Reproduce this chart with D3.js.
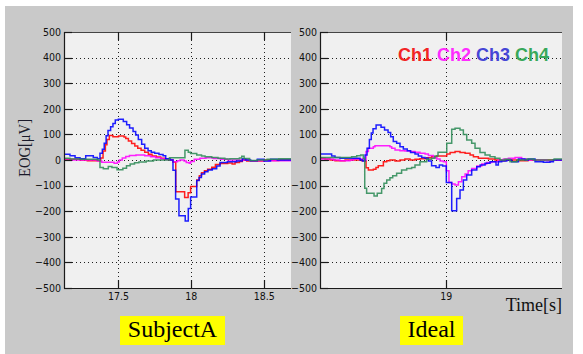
<!DOCTYPE html>
<html>
<head>
<meta charset="utf-8">
<script src="https://cdn.jsdelivr.net/npm/d3@7"></script>
<style>
  body { margin: 0; background: #fff; }
  text { white-space: pre; }
</style>
</head>
<body>
<svg id="chart" width="583" height="354"></svg>
<script>
// ---- data -----------------------------------------------------------
// EOG amplitude axis (µV)
const yTicks = [500, 400, 300, 200, 100, 0, -100, -200, -300, -400, -500];

const channels = ["Ch1", "Ch2", "Ch3", "Ch4"];
const lineColors = ["#ff0000", "#ff00ff", "#0000ff", "#2e8b57"];
const legendColors = ["#f22424", "#ff2cff", "#4646d6", "#38a85a"];

// Panel "SubjectA": time window and ticks (s)
const subjectDomain = [17.126, 18.684];
const subjectTicks = [17.5, 18, 18.5];

// Each series: [time (s), amplitude (µV)] where the sampled value changes
const subjectCh1 = [[17.126,3],[17.236,0],[17.286,-3],[17.378,8],[17.394,35],[17.410,60],[17.421,80],[17.437,96],[17.462,91],[17.500,94],[17.538,90],[17.550,84],[17.568,74],[17.590,64],[17.612,55],[17.632,46],[17.655,38],[17.680,30],[17.705,22],[17.730,16],[17.760,12],[17.790,7],[17.815,3],[17.850,0],[17.874,-8],[17.893,-124],[17.954,-146],[17.978,-128],[17.995,-104],[18.037,-78],[18.055,-62],[18.070,-50],[18.090,-42],[18.112,-36],[18.140,-28],[18.165,-18],[18.197,-14],[18.250,-12],[18.280,-16],[18.300,-10],[18.330,-6],[18.350,0],[18.380,-4],[18.450,-4],[18.500,0],[18.560,-2],[18.600,0],[18.684,0]];
const subjectCh2 = [[17.126,0],[17.355,-4],[17.385,-9],[17.470,-13],[17.492,-8],[17.506,0],[17.526,8],[17.550,14],[17.575,18],[17.620,20],[17.680,17],[17.720,13],[17.755,9],[17.790,5],[17.825,2],[17.860,0],[17.876,-7],[17.905,-3],[17.922,0],[17.950,-4],[17.965,-10],[17.985,-13],[17.995,-6],[18.020,3],[18.059,7],[18.100,9],[18.150,6],[18.200,3],[18.250,0],[18.400,-3],[18.684,-3]];
const subjectCh3 = [[17.126,22],[17.167,17],[17.202,9],[17.236,5],[17.275,17],[17.327,10],[17.355,5],[17.373,26],[17.389,42],[17.402,65],[17.415,95],[17.428,115],[17.446,130],[17.462,143],[17.478,156],[17.499,159],[17.533,150],[17.556,138],[17.576,125],[17.600,111],[17.618,98],[17.636,80],[17.659,62],[17.680,46],[17.703,36],[17.725,30],[17.748,26],[17.778,21],[17.806,17],[17.824,5],[17.854,0],[17.874,-40],[17.892,-152],[17.915,-218],[17.958,-238],[17.979,-189],[17.995,-145],[18.037,-80],[18.053,-68],[18.069,-55],[18.091,-46],[18.114,-39],[18.144,-34],[18.174,-23],[18.197,-10],[18.247,-7],[18.311,-4],[18.350,5],[18.373,0],[18.407,-3],[18.453,3],[18.499,-4],[18.544,3],[18.590,0],[18.684,0]];
const subjectCh4 = [[17.126,7],[17.167,4],[17.236,3],[17.355,0],[17.373,-29],[17.396,-34],[17.430,-25],[17.455,-29],[17.490,-38],[17.530,-32],[17.555,-22],[17.580,-16],[17.610,-11],[17.640,-8],[17.690,-4],[17.740,0],[17.850,9],[17.956,38],[17.979,30],[17.995,25],[18.037,20],[18.070,16],[18.094,13],[18.140,10],[18.183,7],[18.230,4],[18.265,5],[18.330,8],[18.346,15],[18.362,6],[18.400,-2],[18.450,0],[18.520,3],[18.600,5],[18.684,5]];

// Panel "Ideal"
const idealDomain = [18.133, 19.794];
const idealTicks = [19];

const idealCh1 = [[18.133,7],[18.167,4],[18.202,0],[18.236,-3],[18.305,0],[18.419,-3],[18.449,-30],[18.465,-39],[18.499,-36],[18.517,-29],[18.533,-22],[18.568,-7],[18.591,-3],[18.613,0],[18.648,-4],[18.682,0],[18.716,4],[18.751,0],[18.785,3],[18.819,5],[18.865,9],[18.899,13],[18.934,16],[19.003,23],[19.026,29],[19.060,33],[19.094,29],[19.129,26],[19.163,20],[19.186,13],[19.220,7],[19.289,4],[19.334,0],[19.380,-3],[19.403,0],[19.500,-3],[19.560,0],[19.794,0]];
const idealCh2 = [[18.133,4],[18.225,0],[18.270,-3],[18.339,0],[18.362,4],[18.430,0],[18.449,33],[18.465,46],[18.499,52],[18.510,56],[18.613,52],[18.625,46],[18.648,39],[18.682,36],[18.716,35],[18.751,33],[18.785,30],[18.819,26],[18.854,23],[18.877,18],[18.911,10],[18.934,4],[18.957,-4],[18.980,-7],[19.000,-42],[19.018,-88],[19.037,-94],[19.060,-98],[19.083,-85],[19.106,-65],[19.129,-55],[19.150,-42],[19.174,-33],[19.209,-23],[19.243,-16],[19.277,-10],[19.311,-7],[19.357,0],[19.392,4],[19.426,7],[19.472,10],[19.517,4],[19.552,0],[19.690,-3],[19.735,0],[19.794,0]];
const idealCh3 = [[18.133,23],[18.213,16],[18.236,10],[18.270,7],[18.408,0],[18.426,-4],[18.442,20],[18.456,46],[18.472,80],[18.485,105],[18.497,122],[18.518,137],[18.552,128],[18.576,117],[18.600,107],[18.618,91],[18.636,72],[18.659,65],[18.682,52],[18.705,43],[18.732,36],[18.755,29],[18.785,23],[18.808,16],[18.831,10],[18.854,7],[18.877,-4],[18.899,-22],[18.929,-29],[18.952,-20],[18.975,-23],[19.000,-88],[19.037,-198],[19.071,-150],[19.094,-117],[19.117,-78],[19.140,-59],[19.174,-39],[19.209,-26],[19.232,-20],[19.266,-13],[19.300,-7],[19.341,-20],[19.357,-7],[19.380,-4],[19.415,0],[19.449,-7],[19.495,4],[19.540,0],[19.563,4],[19.609,-7],[19.666,-9],[19.712,-7],[19.735,0],[19.794,0]];
const idealCh4 = [[18.133,10],[18.202,10],[18.350,13],[18.385,17],[18.412,20],[18.430,7],[18.440,-110],[18.453,-130],[18.478,-130],[18.504,-141],[18.526,-130],[18.556,-111],[18.572,-91],[18.591,-78],[18.613,-69],[18.632,-62],[18.659,-52],[18.693,-39],[18.728,-33],[18.762,-29],[18.785,-20],[18.819,-7],[18.865,3],[18.899,7],[18.922,16],[18.943,30],[19.003,65],[19.037,120],[19.060,124],[19.094,117],[19.117,100],[19.140,78],[19.174,65],[19.197,46],[19.231,29],[19.266,20],[19.300,13],[19.334,7],[19.368,0],[19.403,3],[19.437,-7],[19.485,0],[19.554,4],[19.600,0],[19.680,0],[19.740,4],[19.794,4]];

// ---- drawing --------------------------------------------------------
const svg = d3.select("#chart");
const tickFont = "'Liberation Sans Narrow','Arial Narrow','DejaVu Sans Condensed',sans-serif";
const serifFont = "'Liberation Serif','Times New Roman',serif";

// figure background
svg.append("rect").attr("x", 0).attr("y", 0).attr("width", 583).attr("height", 354).attr("fill", "#fff");
svg.append("rect").attr("x", 5).attr("y", 6).attr("width", 568).attr("height", 348).attr("fill", "#c9c9c9");

const plotTop = 32, plotBottom = 288;
const y = d3.scaleLinear().domain([-500, 500]).range([plotBottom, plotTop]);
const fmt = d3.format("d");

function drawPanel(cfg) {
  const x = d3.scaleLinear().domain(cfg.domain).range([cfg.left, cfg.right]);
  const g = svg.append("g");
  const clipId = "clip-" + cfg.id;

  g.append("clipPath").attr("id", clipId)
    .append("rect")
    .attr("x", cfg.left).attr("y", plotTop)
    .attr("width", cfg.right - cfg.left).attr("height", plotBottom - plotTop);

  g.append("rect")
    .attr("x", cfg.left).attr("y", plotTop)
    .attr("width", cfg.right - cfg.left).attr("height", plotBottom - plotTop)
    .attr("fill", "#f0f0f0");

  // dotted grid
  const grid = g.append("g").attr("stroke", "#202020").attr("stroke-width", 1)
    .attr("stroke-dasharray", "1,3");
  grid.selectAll("line.h").data(yTicks.filter(v => v > -500 && v < 500)).join("line")
    .attr("class", "h")
    .attr("x1", cfg.left).attr("x2", cfg.right)
    .attr("y1", d => Math.round(y(d)) + 0.5).attr("y2", d => Math.round(y(d)) + 0.5);
  grid.selectAll("line.v").data(cfg.ticks).join("line")
    .attr("class", "v")
    .attr("y1", plotTop).attr("y2", plotBottom)
    .attr("x1", d => Math.round(x(d)) + 0.5).attr("x2", d => Math.round(x(d)) + 0.5);

  // traces
  const line = d3.line().x(d => x(d[0])).y(d => y(d[1])).curve(d3.curveStepAfter);
  const traces = g.append("g").attr("clip-path", `url(#${clipId})`);
  cfg.series.forEach((s, i) => {
    traces.append("path")
      .datum(s)
      .attr("fill", "none")
      .attr("stroke", lineColors[i])
      .attr("stroke-width", 1.5)
      .attr("stroke-opacity", 0.88)
      .attr("d", line);
  });

  // box edges (top, left, bottom) with inward ticks
  const axis = g.append("g").attr("stroke", "#1a1a1a").attr("stroke-width", 1.2);
  axis.append("line").attr("x1", cfg.left).attr("x2", cfg.right)
    .attr("y1", plotTop + 0.5).attr("y2", plotTop + 0.5).attr("stroke", "#444");
  axis.append("line").attr("x1", cfg.left + 0.5).attr("x2", cfg.left + 0.5)
    .attr("y1", plotTop).attr("y2", plotBottom + 0.5);
  axis.append("line").attr("x1", cfg.left).attr("x2", cfg.right)
    .attr("y1", plotBottom + 0.5).attr("y2", plotBottom + 0.5);
  axis.selectAll("line.yt").data(yTicks).join("line").attr("class", "yt")
    .attr("x1", cfg.left).attr("x2", cfg.left + 8)
    .attr("y1", d => Math.round(y(d)) + 0.5).attr("y2", d => Math.round(y(d)) + 0.5);
  axis.selectAll("line.xt").data(cfg.ticks).join("line").attr("class", "xt")
    .attr("x1", d => Math.round(x(d)) + 0.5).attr("x2", d => Math.round(x(d)) + 0.5)
    .attr("y1", plotBottom).attr("y2", plotBottom - 8);
  axis.selectAll("line.xt2").data(cfg.ticks).join("line").attr("class", "xt2")
    .attr("x1", d => Math.round(x(d)) + 0.5).attr("x2", d => Math.round(x(d)) + 0.5)
    .attr("y1", plotTop).attr("y2", plotTop + 8);

  // tick labels
  g.selectAll("text.yl").data(yTicks).join("text").attr("class", "yl")
    .attr("x", cfg.left - 3).attr("y", d => y(d)).attr("dy", "0.36em")
    .attr("text-anchor", "end")
    .attr("font-family", tickFont).attr("font-size", 10.5).attr("fill", "#111")
    .text(d => fmt(d));
  g.selectAll("text.xl").data(cfg.ticks).join("text").attr("class", "xl")
    .attr("x", d => x(d)).attr("y", 300)
    .attr("text-anchor", "middle")
    .attr("font-family", tickFont).attr("font-size", 10.5).attr("fill", "#111")
    .text(d => d);

  // caption in yellow box
  g.append("rect")
    .attr("x", cfg.box[0]).attr("y", 316)
    .attr("width", cfg.box[1] - cfg.box[0]).attr("height", 29)
    .attr("fill", "#ffff00");
  g.append("text")
    .attr("x", (cfg.box[0] + cfg.box[1]) / 2).attr("y", 337)
    .attr("text-anchor", "middle")
    .attr("font-family", serifFont).attr("font-size", 24).attr("fill", "#000")
    .text(cfg.title);
}

drawPanel({
  id: "subject", left: 64, right: 291, domain: subjectDomain, ticks: subjectTicks,
  series: [subjectCh1, subjectCh2, subjectCh3, subjectCh4],
  title: "SubjectA", box: [120, 225]
});
drawPanel({
  id: "ideal", left: 320, right: 562, domain: idealDomain, ticks: idealTicks,
  series: [idealCh1, idealCh2, idealCh3, idealCh4],
  title: "Ideal", box: [400, 463]
});

// axis titles
svg.append("text")
  .attr("transform", "translate(30,148) rotate(-90)")
  .attr("text-anchor", "middle")
  .attr("font-family", serifFont).attr("font-size", 17).attr("fill", "#1a1a2a")
  .attr("textLength", 58).attr("lengthAdjust", "spacingAndGlyphs")
  .text("EOG[μV]");
svg.append("text")
  .attr("x", 562).attr("y", 311)
  .attr("text-anchor", "end")
  .attr("font-family", serifFont).attr("font-size", 18).attr("fill", "#111")
  .text("Time[s]");

// channel legend
const legend = svg.append("text")
  .attr("x", 398).attr("y", 61)
  .attr("font-family", "'Liberation Sans',Arial,sans-serif")
  .attr("font-size", 18).attr("font-weight", "bold");
channels.forEach((c, i) => {
  legend.append("tspan").attr("fill", legendColors[i]).text(i < channels.length - 1 ? c + " " : c);
});
</script>
</body>
</html>
